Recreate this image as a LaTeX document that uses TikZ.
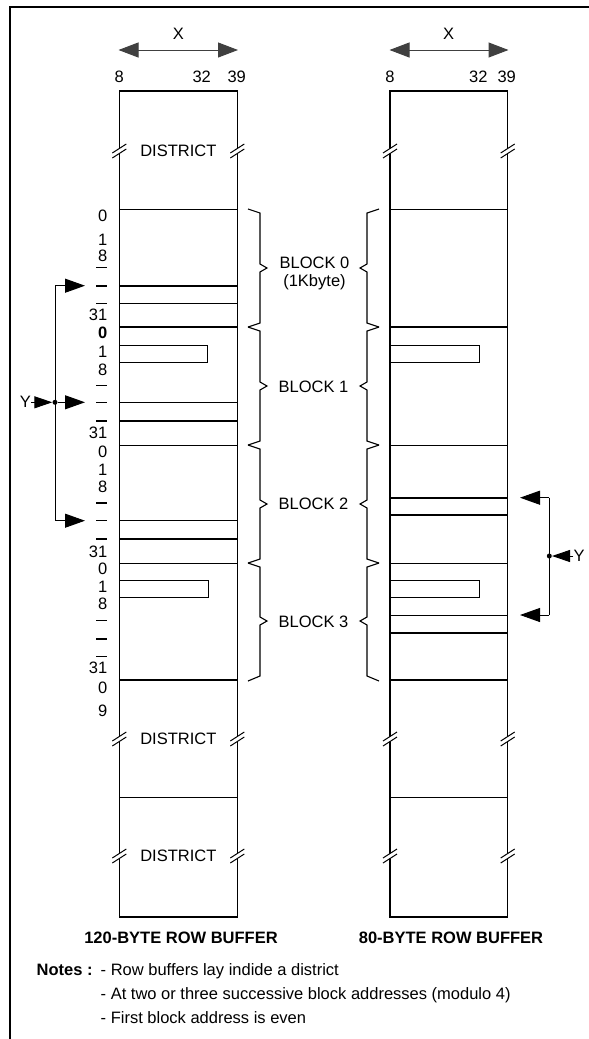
\documentclass[tikz,border=0pt]{standalone}
\usepackage{fontspec}
\setmainfont{Liberation Sans}
\usetikzlibrary{arrows.meta}

\begin{document}
\begin{tikzpicture}[
    x=1pt, y=-1pt,
    txt/.style={inner sep=0pt, font=\fontsize{16.5}{19}\selectfont},
    num/.style={txt, anchor=east},
    title/.style={inner sep=0pt, font=\fontsize{16.5}{19}\selectfont\bfseries},
    col/.style={draw, line width=1.1pt},
    rowthin/.style={line width=0.9pt},
    rowthick/.style={line width=2pt},
    brace/.style={line width=1.1pt},
    arrow/.style={-{Triangle[length=20pt,width=14pt]}, line width=1pt},
    yin/.style={-{Triangle[length=18pt,width=12pt]}, line width=1pt},
    darrow/.style={{Triangle[length=20pt,width=15pt]}-{Triangle[length=20pt,width=15pt]}, line width=1pt, black!75},
    dot/.style={circle, fill, inner sep=0pt, minimum size=5pt},
    brk/.pic={\fill[white] (-7,2) -- (7,-7) -- (7,-2) -- (-7,7) -- cycle;
              \draw[line width=1pt] (-7,2) -- (7,-7) (-7,7) -- (7,-2);}
]
\useasboundingbox (0,0) rectangle (589,1039);

% Frame
\draw[line width=2.8pt] (589,7) -- (10,7) -- (10,1039);

% Left column header
\node[txt] (xl) at (178.3,33.8) {X};
\coordinate (xla) at (118.5,50);
\coordinate (xlb) at (238,50);
\draw[darrow] (xla) -- (xlb);
\node[txt] (l8) at (119.3,76.7) {8};
\node[txt] (l32) at (201.7,76.7) {32};
\node[txt] (l39) at (236.7,76.7) {39};

% Right column header
\node[txt] (xr) at (448.5,33.8) {X};
\coordinate (xra) at (389.5,50);
\coordinate (xrb) at (508.5,50);
\draw[darrow] (xra) -- (xrb);
\node[txt] (r8) at (390,76.7) {8};
\node[txt] (r32) at (478.3,76.7) {32};
\node[txt] (r39) at (506.7,76.7) {39};

% Left column: 120-byte row buffer
\draw[col] (119.3,91) rectangle (237.3,917);
\draw[line width=1.6pt] (119.3,91) -- (119.3,917);
\draw[rowthin] (119.3,209) -- (237.3,209);
\draw[rowthick] (119.3,285.7) -- (237.3,285.7);
\draw[rowthin] (119.3,303.3) -- (237.3,303.3);
\draw[rowthick] (119.3,327) -- (237.3,327);
\draw[rowthin] (119.3,402.3) -- (237.3,402.3);
\draw[rowthick] (119.3,421) -- (237.3,421);
\draw[rowthin] (119.3,445) -- (237.3,445);
\draw[rowthin] (119.3,520.7) -- (237.3,520.7);
\draw[rowthick] (119.3,539) -- (237.3,539);
\draw[rowthin] (119.3,563) -- (237.3,563);
\draw[rowthick] (119.3,680) -- (237.3,680);
\draw[rowthin] (119.3,797.3) -- (237.3,797.3);
\draw[rowthin] (119.3,345) rectangle (207.7,362.3);
\draw[rowthin] (119.3,580) rectangle (208.3,597.3);

% Left column: districts
\node[txt] (ld1) at (178.3,150.5) {DISTRICT};
\node[txt] (ld2) at (178.3,739) {DISTRICT};
\node[txt] (ld3) at (178.3,855.5) {DISTRICT};
\pic at (119.3,151) {brk};
\pic at (237.3,151) {brk};
\pic at (119.3,739) {brk};
\pic at (237.3,739) {brk};
\pic at (119.3,856) {brk};
\pic at (237.3,856) {brk};

% Left column: row numbers
\node[num] (n00) at (107.5,215.7) {0};
\node[num] (n01) at (107.5,240) {1};
\node[num] (n02) at (107.5,256) {8};
\node[num] (n03) at (107.5,315) {31};
\node[num, font=\fontsize{16.5}{19}\selectfont\bfseries] (n10) at (107.5,333) {0};
\node[num] (n11) at (107.5,351.7) {1};
\node[num] (n12) at (107.5,370) {8};
\node[num] (n13) at (107.5,433.3) {31};
\node[num] (n20) at (107.5,451.7) {0};
\node[num] (n21) at (107.5,470) {1};
\node[num] (n22) at (107.5,487.3) {8};
\node[num] (n23) at (107.5,551.7) {31};
\node[num] (n30) at (107.5,569.3) {0};
\node[num] (n31) at (107.5,586.7) {1};
\node[num] (n32) at (107.5,604) {8};
\node[num] (n33) at (107.5,668.3) {31};
\node[num] (n40) at (107.5,688) {0};
\node[num] (n41) at (107.5,711) {9};

% Left column: row marks
\draw[rowthin] (96,267.7) -- (107,267.7);
\draw[rowthick] (96,285.7) -- (107,285.7);
\draw[rowthin] (96,303.3) -- (107,303.3);
\draw[rowthin] (96,385.7) -- (107,385.7);
\draw[rowthin] (96,402.3) -- (107,402.3);
\draw[rowthick] (96,421) -- (107,421);
\draw[rowthick] (96,502.7) -- (107,502.7);
\draw[rowthin] (96,520.7) -- (107,520.7);
\draw[rowthick] (96,539) -- (107,539);
\draw[rowthin] (96,620.7) -- (107,620.7);
\draw[rowthick] (96,639) -- (107,639);
\draw[rowthin] (96,656.7) -- (107,656.7);

% Left Y
\coordinate (yla) at (55,285.7);
\coordinate (ylb) at (55,520.7);
\coordinate (ylta) at (85,285.7);
\coordinate (yltb) at (85,520.7);
\coordinate (yltm) at (85,402.3);
\node[dot] (ylm) at (55,402.3) {};
\node[txt] (yl) at (25.5,402.3) {Y};
\draw[line width=1pt] (yla) -- (ylb);
\draw[arrow] (yla) -- (ylta);
\draw[arrow] (ylb) -- (yltb);
\draw[arrow] (ylm) -- (yltm);
\draw[yin] (yl) -- (ylm);

% Braces of the left column
\draw[brace] (248,209) -- (260,213) -- (260,264) -- (267,268) -- (260,272) -- (260,323) -- (248,327);
\draw[brace] (248,327) -- (260,331) -- (260,382) -- (267,386) -- (260,390) -- (260,441) -- (248,445);
\draw[brace] (248,445) -- (260,449) -- (260,500) -- (267,504) -- (260,508) -- (260,559) -- (248,563);
\draw[brace] (248,563) -- (260,567) -- (260,617) -- (267,621) -- (260,625) -- (260,676) -- (248,681);

% Block labels
\node[txt] (b0) at (314.5,262.7) {BLOCK 0};
\node[txt, anchor=base] (b0k) at (314.5,286.5) {(1Kbyte)};
\node[txt] (b1) at (313.5,386.7) {BLOCK 1};
\node[txt] (b2) at (313.5,504) {BLOCK 2};
\node[txt] (b3) at (313.5,621.7) {BLOCK 3};

% Braces of the right column
\draw[brace] (379,209) -- (367,213) -- (367,264) -- (360,268) -- (367,272) -- (367,323) -- (379,327);
\draw[brace] (379,327) -- (367,331) -- (367,382) -- (360,386) -- (367,390) -- (367,441) -- (379,445);
\draw[brace] (379,445) -- (367,449) -- (367,500) -- (360,504) -- (367,508) -- (367,559) -- (379,563);
\draw[brace] (379,563) -- (367,567) -- (367,617) -- (360,621) -- (367,625) -- (367,676) -- (379,681);

% Right column: 80-byte row buffer
\draw[col] (390,91) rectangle (507.7,917);
\draw[line width=1.6pt] (390,91) -- (390,917);
\draw[rowthin] (390,209) -- (507.7,209);
\draw[rowthick] (390,327) -- (507.7,327);
\draw[rowthin] (390,445) -- (507.7,445);
\draw[rowthick] (390,497.7) -- (507.7,497.7);
\draw[rowthick] (390,515) -- (507.7,515);
\draw[rowthin] (390,563) -- (507.7,563);
\draw[rowthin] (390,615) -- (507.7,615);
\draw[rowthick] (390,632.7) -- (507.7,632.7);
\draw[rowthick] (390,680) -- (507.7,680);
\draw[rowthin] (390,797.3) -- (507.7,797.3);
\draw[rowthin] (390,345) rectangle (479,362.3);
\draw[rowthin] (390,580) rectangle (479,597.3);
\pic at (390,151) {brk};
\pic at (507.7,151) {brk};
\pic at (390,739) {brk};
\pic at (507.7,739) {brk};
\pic at (390,856) {brk};
\pic at (507.7,856) {brk};

% Right Y
\coordinate (yra) at (549.3,497.7);
\coordinate (yrb) at (549.3,615);
\coordinate (yrta) at (520,497.7);
\coordinate (yrtb) at (520,615);
\node[dot] (yrm) at (549.3,556) {};
\node[txt] (yr) at (579,556) {Y};
\draw[line width=1pt] (yra) -- (yrb);
\draw[arrow] (yra) -- (yrta);
\draw[arrow] (yrb) -- (yrtb);
\draw[yin] (yr) -- (yrm);

% Titles
\node[title] (t120) at (181,938.3) {120-BYTE ROW BUFFER};
\node[title] (t80) at (451,938.3) {80-BYTE ROW BUFFER};

% Notes
\node[title, anchor=base west] (notes) at (36.5,975) {Notes :};
\node[txt, anchor=base west] (note1) at (100.5,975) {- Row buffers lay indide a district};
\node[txt, anchor=base west] (note2) at (100.5,999.3) {- At two or three successive block addresses (modulo 4)};
\node[txt, anchor=base west] (note3) at (100.5,1023.3) {- First block address is even};

\end{tikzpicture}
\end{document}
